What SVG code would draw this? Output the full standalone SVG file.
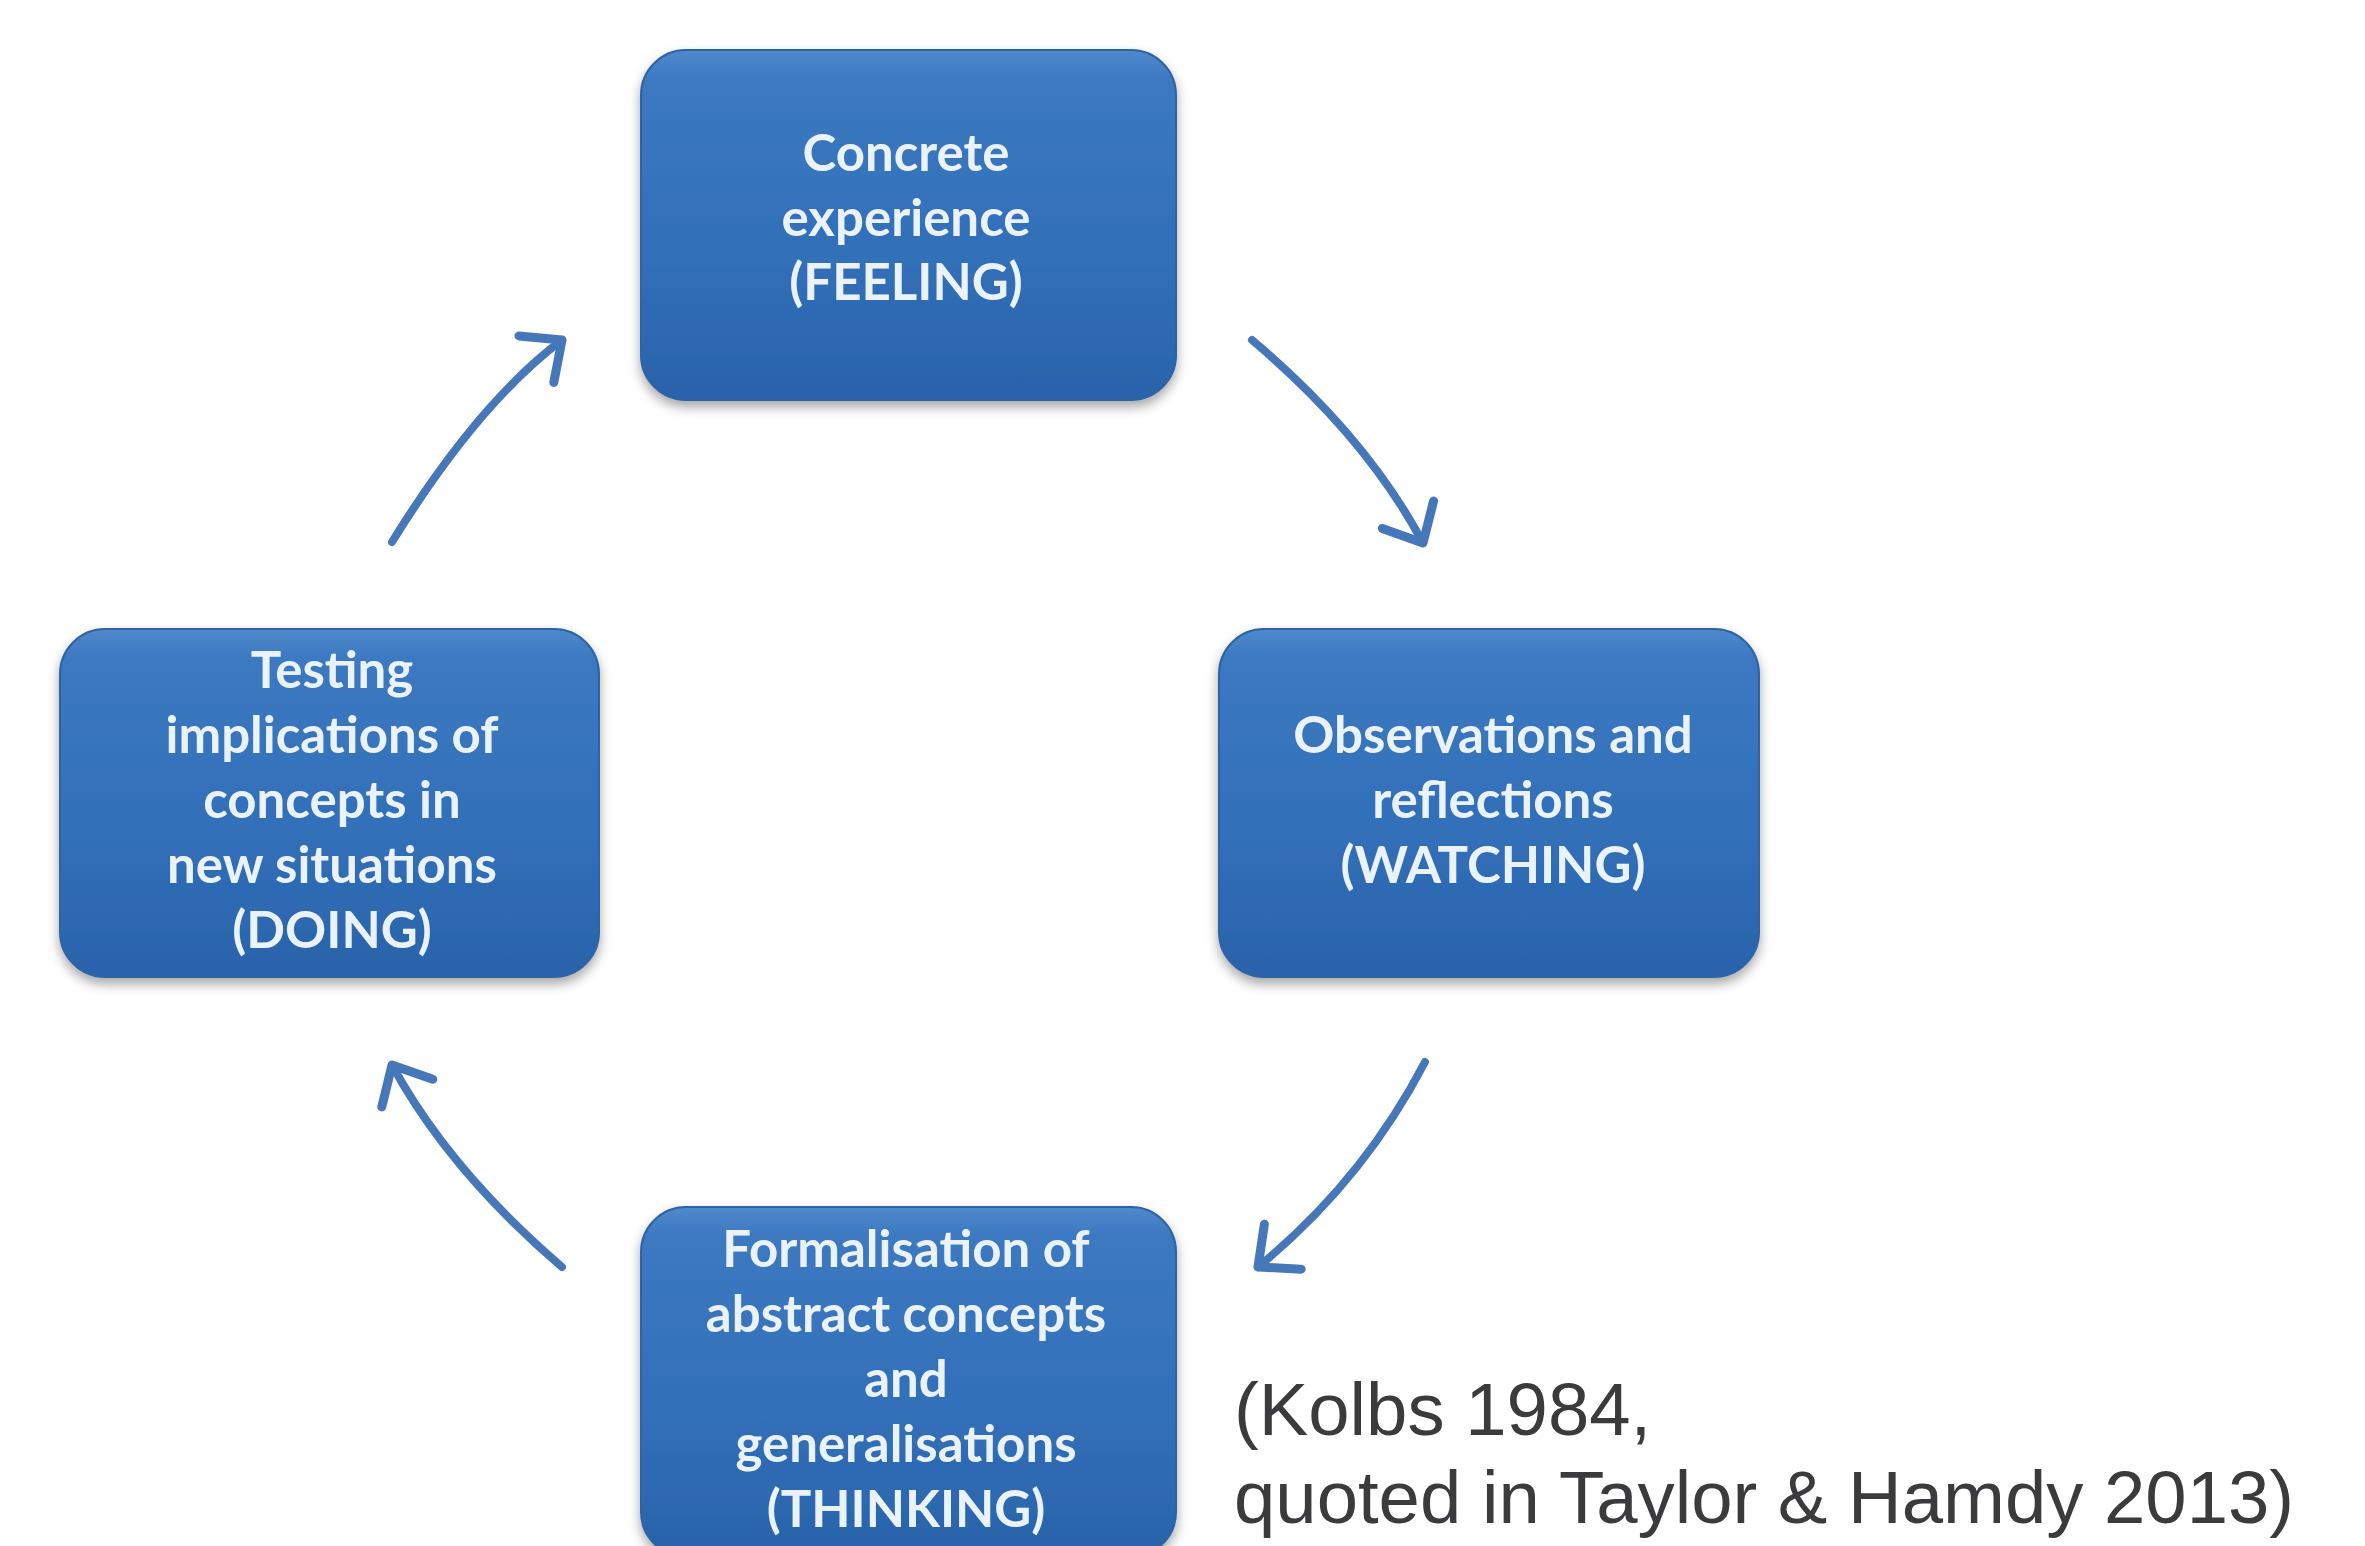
<svg xmlns="http://www.w3.org/2000/svg" width="2365" height="1546" viewBox="0 0 2365 1546">
  <style>
    .box { fill: url(#boxGrad); stroke: #2f63a6; stroke-width: 2; filter: url(#shadow); }
    .lbl { font-family: Lato, "Open Sans", "DejaVu Sans", sans-serif; font-size: 51px; font-weight: 700; fill: #eaf3fb; text-anchor: middle; }
    .conn { fill: none; stroke: #4677b8; stroke-width: 8; stroke-linecap: round; marker-end: url(#arrow); }
    .cite { font-family: "Liberation Sans", Arial, sans-serif; font-size: 74.3px; fill: #3b3b3d; }
  </style>
  <defs>
    <linearGradient id="boxGrad" x1="0" y1="0" x2="0" y2="1">
      <stop offset="0" stop-color="#5089cc"/>
      <stop offset="0.08" stop-color="#3c79c1"/>
      <stop offset="0.6" stop-color="#316fb8"/>
      <stop offset="1" stop-color="#2a63aa"/>
    </linearGradient>
    <filter id="shadow" x="-10%" y="-10%" width="120%" height="125%">
      <feDropShadow dx="0" dy="6" stdDeviation="6" flood-color="#000" flood-opacity="0.35"/>
    </filter>
    <marker id="arrow" markerUnits="userSpaceOnUse" markerWidth="80" markerHeight="80" refX="0" refY="0" viewBox="-50 -40 60 80" orient="auto">
      <path d="M -32 -29 L 0 0 L -32 29" fill="none" stroke="#4677b8" stroke-width="9" stroke-linecap="round" stroke-linejoin="round"/>
    </marker>
  </defs>
  <rect width="2365" height="1546" fill="#ffffff"/>

  <g id="connectors">
    <path class="conn" d="M 1252 340 Q 1366 436 1423 543"/>
    <path class="conn" d="M 1425 1062 Q 1363 1181 1258 1267"/>
    <path class="conn" d="M 562 1267 Q 449 1170 392 1065"/>
    <path class="conn" d="M 392 542 Q 478 403 562 340"/>
  </g>

  <g id="node-concrete">
    <rect class="box" x="641" y="50" width="535" height="350" rx="45" ry="45"/>
    <text class="lbl" x="906"><tspan x="906" y="171">Concrete</tspan><tspan x="906" y="236">experience</tspan><tspan x="906" y="300">(FEELING)</tspan></text>
  </g>

  <g id="node-observations">
    <rect class="box" x="1219" y="629" width="540" height="348" rx="45" ry="45"/>
    <text class="lbl" x="1493"><tspan x="1493" y="753">Observations and</tspan><tspan x="1493" y="818">reflections</tspan><tspan x="1493" y="883">(WATCHING)</tspan></text>
  </g>

  <g id="node-testing">
    <rect class="box" x="60" y="629" width="539" height="348" rx="45" ry="45"/>
    <text class="lbl" x="332"><tspan x="332" y="688">Testing</tspan><tspan x="332" y="753">implications of</tspan><tspan x="332" y="818">concepts in</tspan><tspan x="332" y="883">new situations</tspan><tspan x="332" y="948">(DOING)</tspan></text>
  </g>

  <g id="node-formalisation">
    <rect class="box" x="641" y="1207" width="535" height="350" rx="45" ry="45"/>
    <text class="lbl" x="906"><tspan x="906" y="1267">Formalisation of</tspan><tspan x="906" y="1332">abstract concepts</tspan><tspan x="906" y="1397">and</tspan><tspan x="906" y="1462">generalisations</tspan><tspan x="906" y="1527">(THINKING)</tspan></text>
  </g>

  <g id="citation">
    <text class="cite"><tspan x="1234" y="1435">(Kolbs 1984,</tspan><tspan x="1234" y="1523">quoted in Taylor &amp; Hamdy 2013)</tspan></text>
  </g>
</svg>
